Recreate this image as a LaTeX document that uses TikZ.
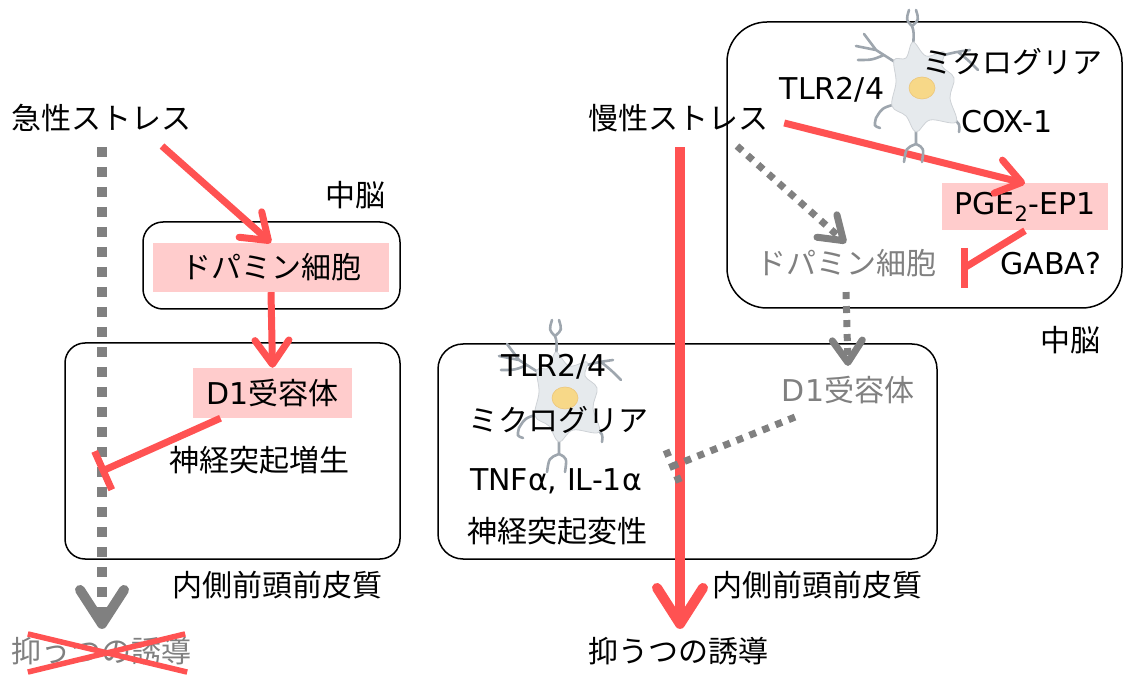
\documentclass[tikz,border=0pt]{standalone}
\usepackage{fontspec}
\setmainfont{Noto Sans CJK JP}
\newfontfamily\lat{DejaVu Sans}
\usetikzlibrary{arrows.meta, positioning}
\definecolor{rojo}{RGB}{255, 82, 82}
\definecolor{rosa}{RGB}{255, 204, 204}
\definecolor{gris}{RGB}{128, 128, 128}
\definecolor{celula}{RGB}{230, 234, 237}
\definecolor{rama}{RGB}{158, 166, 174}
\definecolor{nucleo}{RGB}{247, 216, 136}
\tikzset{
    region/.style={draw, rounded corners=20pt, line width=1.5pt, inner sep=0pt},
    txt/.style={inner sep=2pt, font=\fontsize{30}{36}\selectfont},
    hl/.style={txt, fill=rosa, inner sep=0pt},
    act/.style={-{Straight Barb[round, length=24pt, width=34pt]}, rojo, line width=7pt},
    actBig/.style={-{Straight Barb[round, length=36pt, width=46pt]}, rojo, line width=10pt},
    inh/.style={-{Bar[width=42pt]}, rojo, line width=7pt},
    inhBar/.style={rojo, line width=7pt},
    grayDot/.style={gris, line width=7pt, dash pattern=on 7pt off 7pt},
    grayArr/.style={grayDot, -{Straight Barb[round, length=22pt, width=30pt]}},
    grayDotBig/.style={gris, line width=10pt, dash pattern=on 10pt off 10pt,
        -{Straight Barb[round, length=34pt, width=44pt]}},
    microglia/.pic={
        % processes
        \draw[rama, line width=2.6pt, line cap=round]
            (-9,-40) .. controls (-8,-56) .. (-10,-62)
            (-10,-62) .. controls (-16,-68) .. (-13,-78)
            (-10,-62) .. controls (-3,-68) .. (-6,-78)
            (-24,-24) -- (-46,-38)
            (-46,-38) -- (-66,-42)
            (-46,-38) .. controls (-52,-46) .. (-58,-54)
            (-38,-33) .. controls (-50,-28) .. (-64,-28)
            (-26,16) .. controls (-40,20) .. (-46,30) .. controls (-48,38) .. (-42,40)
            (-6,40) -- (-6,56)
            (-6,56) .. controls (-16,60) .. (-18,74)
            (-6,56) .. controls (2,60) .. (0,74)
            (30,30) .. controls (38,36) .. (37,44)
            (18,-32) .. controls (34,-36) .. (48,-38)
            (36,-36) .. controls (46,-28) .. (56,-18);
        % cell body
        \filldraw[fill=celula, draw=rama!50, line width=0.8pt]
            plot[smooth cycle, tension=0.6] coordinates {
                (-9,-46) (-16,-30) (-28,-28) (-26,-6) (-30,18) (-16,28)
                (-6,44) (8,32) (34,34) (28,10) (32,-10) (20,-22) (22,-36) (4,-32)};
        \filldraw[fill=nucleo, draw=nucleo!80!brown, line width=0.6pt]
            (0,0) ellipse [x radius=13pt, y radius=11pt];
    },
}
\begin{document}
\begin{tikzpicture}[x=1pt, y=-1pt]
    \useasboundingbox (0,0) rectangle (1128,676);

    % acute stress
    \node[region, minimum width=257pt, minimum height=87pt] (mid1) at (271.5,265.5) {};
    \node[region, minimum width=335pt, minimum height=216pt] (pfc1) at (232.5,451) {};
    \node[txt] (acute) at (102,118) {急性ストレス};
    \node[txt] (midL1) at (355,195) {中脳};
    \node[hl, minimum width=236pt, minimum height=49pt] (dopa1) at (271,267.5) {ドパミン細胞};
    \node[hl, minimum width=159pt, minimum height=50pt] (d1a) at (272.5,393) {{\lat D1}受容体};
    \node[txt] (growth) at (259,460) {神経突起増生};
    \node[txt] (pfcL1) at (277,585) {内側前頭前皮質};
    \node[txt, text=gris] (dep1) at (102,651) {抑うつの誘導};
    \coordinate (stop1) at (100,472);

    \draw[grayDotBig] ([yshift=-13pt]acute.south) -- ([yshift=6pt]dep1.north);
    \draw[act] ([xshift=60pt, yshift=-12pt]acute.south) -- (dopa1.north);
    \draw[act] (dopa1.south) -- (d1a.north);
    \draw[inh] ([xshift=-52pt]d1a.south) -- (stop1);
    \draw[rojo, line width=5.5pt] ([xshift=18pt, yshift=1pt]dep1.north west) -- ([xshift=-7pt, yshift=-5pt]dep1.south east);
    \draw[rojo, line width=5.5pt] ([xshift=18pt, yshift=-5pt]dep1.south west) -- ([xshift=-9pt, yshift=1pt]dep1.north east);

    % chronic stress
    \node[region, rounded corners=40pt, minimum width=395pt, minimum height=286pt] (mid2) at (924.5,165) {};
    \node[region, rounded corners=25pt, minimum width=499pt, minimum height=215pt] (pfc2) at (687.5,451.5) {};
    \node[txt] (chronic) at (678,118) {慢性ストレス};
    \node[hl, minimum width=166pt, minimum height=47pt] (pge) at (1025,207) {\lat PGE\textsubscript{2}-EP1};
    \node[txt, text=gris] (dopa2) at (846,263) {ドパミン細胞};
    \node[txt, text=gris] (d1b) at (848,390) {{\lat D1}受容体};
    \node[txt] (dep2) at (678,651) {抑うつの誘導};
    \coordinate (stop2) at (964,268);
    \coordinate (bar2a) at (964,248);
    \coordinate (bar2b) at (964,288);
    \coordinate (stop3) at (673,466);
    \coordinate (bar3a) at (666,450);
    \coordinate (bar3b) at (680,484);

    \draw[actBig] ([xshift=2pt, yshift=-13pt]chronic.south) -- ([xshift=2pt, yshift=6pt]dep2.north);
    \draw[act] ([xshift=14pt, yshift=-5pt]chronic.east) -- (pge.north);
    \draw[inhBar] (pge.south) -- (stop2);
    \draw[inhBar] (bar2a) -- (bar2b);
    \draw[grayArr] ([xshift=59pt, yshift=-12pt]chronic.south) -- ([yshift=4pt]dopa2.north);
    \draw[grayArr] ([yshift=-13pt]dopa2.south) -- ([yshift=8pt]d1b.north);
    \draw[grayDot] ([xshift=-53pt, yshift=-11pt]d1b.south) -- (stop3);
    \draw[grayDot] (bar3a) -- (bar3b);

    \pic at (922,88) {microglia};
    \pic at (565,398) {microglia};

    \node[txt] (tlr1) at (832,90) {\lat TLR2/4};
    \node[txt] (mg1) at (1012,62) {ミクログリア};
    \node[txt] (cox) at (1007,122) {\lat COX-1};
    \node[txt] (gaba) at (1051,264) {\lat GABA?};
    \node[txt] (midL2) at (1070,340) {中脳};
    \node[txt] (tlr2) at (554,367) {\lat TLR2/4};
    \node[txt] (mg2) at (558,420) {ミクログリア};
    \node[txt] (tnf) at (556,481) {\lat TNFα, IL-1α};
    \node[txt] (degen) at (557,531) {神経突起変性};
    \node[txt] (pfcL2) at (817,585) {内側前頭前皮質};
\end{tikzpicture}
\end{document}
